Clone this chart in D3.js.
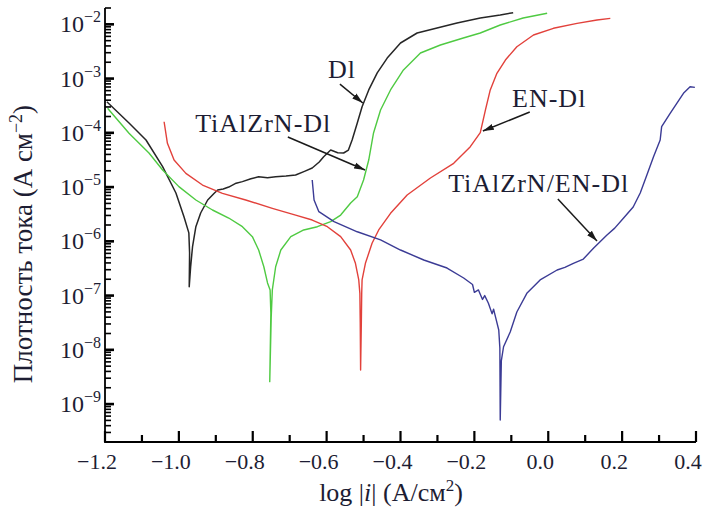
<!DOCTYPE html>
<html>
<head>
<meta charset="utf-8">
<script src="https://cdn.jsdelivr.net/npm/d3@7"></script>
<style>
  html, body { margin: 0; padding: 0; background: #ffffff; }
  svg { display: block; font-family: "Liberation Serif", "Times New Roman", serif; }
</style>
</head>
<body>
<svg id="chart" width="707" height="508"></svg>
<script>
// Polarization curves: potential (x) vs current density (y, A/cm²)

// Dl
const dlE = [-1.195, -1.135, -1.089, -1.044, -1.008, -0.986, -0.973, -0.971, -0.972, -0.968, -0.963, -0.954, -0.941, -0.922, -0.905, -0.895, -0.880, -0.865, -0.845, -0.828, -0.805, -0.784, -0.760, -0.738, -0.710, -0.684, -0.660, -0.639, -0.620, -0.608, -0.589, -0.570, -0.554, -0.541, -0.531, -0.517, -0.504, -0.486, -0.463, -0.436, -0.400, -0.355, -0.301, -0.247, -0.184, -0.130, -0.095];
const dlI = [3.75e-4, 1.52e-4, 7.38e-5, 2.38e-5, 7.78e-6, 2.81e-6, 1.43e-6, 6.1e-7, 1.46e-7, 3.5e-7, 7.96e-7, 1.86e-6, 3.33e-6, 5.78e-6, 7.6e-6, 8.83e-6, 9.2e-6, 1.0e-5, 1.18e-5, 1.26e-5, 1.42e-5, 1.55e-5, 1.48e-5, 1.55e-5, 1.60e-5, 1.67e-5, 1.95e-5, 2.25e-5, 2.9e-5, 3.63e-5, 4.82e-5, 4.3e-5, 4.25e-5, 4.82e-5, 7.38e-5, 1.52e-4, 3.03e-4, 6.17e-4, 1.27e-3, 2.39e-3, 4.53e-3, 6.92e-3, 8.55e-3, 1.06e-2, 1.31e-2, 1.49e-2, 1.64e-2];

// TiAlZrN-Dl
const tiDlE = [-1.193, -1.135, -1.081, -1.044, -1.000, -0.954, -0.909, -0.865, -0.828, -0.801, -0.784, -0.770, -0.760, -0.753, -0.751, -0.754, -0.750, -0.747, -0.738, -0.724, -0.697, -0.662, -0.625, -0.589, -0.562, -0.535, -0.517, -0.500, -0.486, -0.473, -0.454, -0.427, -0.392, -0.346, -0.292, -0.230, -0.184, -0.130, -0.068, -0.003];
const tiDlI = [2.83e-4, 9.8e-5, 4.25e-5, 2.07e-5, 1.02e-5, 5.78e-6, 3.78e-6, 2.69e-6, 1.86e-6, 1.22e-6, 6.92e-7, 3.40e-7, 1.71e-7, 1.27e-7, 4.78e-8, 2.59e-9, 4.0e-8, 1.27e-7, 3.40e-7, 6.92e-7, 1.22e-6, 1.62e-6, 1.86e-6, 2.30e-6, 3.05e-6, 5.09e-6, 6.65e-6, 1.35e-5, 3.15e-5, 9.93e-5, 2.64e-4, 6.17e-4, 1.44e-3, 2.96e-3, 4.16e-3, 5.6e-3, 6.92e-3, 9.72e-3, 1.31e-2, 1.60e-2];

// EN-Dl
const enDlE = [-1.040, -1.031, -1.013, -0.981, -0.936, -0.882, -0.819, -0.747, -0.684, -0.639, -0.598, -0.562, -0.535, -0.522, -0.513, -0.510, -0.509, -0.508, -0.506, -0.505, -0.504, -0.495, -0.477, -0.459, -0.427, -0.382, -0.319, -0.256, -0.211, -0.184, -0.170, -0.157, -0.139, -0.116, -0.085, -0.040, 0.014, 0.078, 0.132, 0.168];
const enDlI = [1.60e-4, 6.41e-5, 3.15e-5, 1.79e-5, 1.09e-5, 7.67e-6, 5.78e-6, 4.06e-6, 3.05e-6, 2.47e-6, 1.86e-6, 1.22e-6, 6.92e-7, 3.94e-7, 1.94e-7, 1.10e-7, 3.2e-8, 4.25e-9, 3.2e-8, 1.10e-7, 1.94e-7, 3.94e-7, 9.2e-7, 1.62e-6, 3.28e-6, 7.14e-6, 1.47e-5, 2.74e-5, 5.55e-5, 1.01e-4, 2.64e-4, 6.17e-4, 1.25e-3, 2.20e-3, 3.87e-3, 6.35e-3, 8.45e-3, 1.04e-2, 1.20e-2, 1.29e-2];

// TiAlZrN/EN-Dl
const tiEnDlE = [-0.639, -0.634, -0.621, -0.580, -0.517, -0.454, -0.400, -0.337, -0.274, -0.229, -0.205, -0.200, -0.189, -0.178, -0.172, -0.162, -0.152, -0.148, -0.143, -0.134, -0.131, -0.130, -0.127, -0.121, -0.103, -0.085, -0.058, -0.022, 0.024, 0.045, 0.068, 0.095, 0.123, 0.159, 0.180, 0.204, 0.230, 0.249, 0.267, 0.285, 0.303, 0.307, 0.330, 0.348, 0.366, 0.384, 0.397];
const tiEnDlI = [1.35e-5, 5.78e-6, 3.52e-6, 2.30e-6, 1.50e-6, 1.06e-6, 6.92e-7, 4.53e-7, 3.22e-7, 2.11e-7, 1.6e-7, 1.15e-7, 1.27e-7, 8.5e-8, 1.0e-7, 7.21e-8, 4.6e-8, 5.6e-8, 4.08e-8, 2.32e-8, 1.08e-8, 5.09e-10, 6.3e-9, 1.14e-8, 2.13e-8, 4.98e-8, 1.10e-7, 1.94e-7, 2.96e-7, 3.3e-7, 3.94e-7, 4.72e-7, 7.53e-7, 1.31e-6, 1.75e-6, 2.69e-6, 4.3e-6, 7.78e-6, 1.67e-5, 3.63e-5, 7.38e-5, 1.30e-4, 2.29e-4, 3.50e-4, 5.36e-4, 7.08e-4, 6.90e-4];

// Axis ticks
const xMajor = [-1.2, -1.0, -0.8, -0.6, -0.4, -0.2, 0.0, 0.2, 0.4];
const xMinor = [-1.1, -0.9, -0.7, -0.5, -0.3, -0.1, 0.1, 0.3];
const yExponents = [-2, -3, -4, -5, -6, -7, -8, -9];

// Callouts: label anchor (left/baseline) and arrow from -> to, in data units
const labels = [
  { text: "Dl",            lx: -0.596, ly: 1.03e-3, ax0: -0.564, ay0: 7.9e-4, ax1: -0.502, ay1: 3.55e-4 },
  { text: "TiAlZrN-Dl",    lx: -0.956, ly: 1.04e-4, ax0: -0.705, ay0: 8.4e-5, ax1: -0.496, ay1: 2.07e-5 },
  { text: "EN-Dl",         lx: -0.098, ly: 2.99e-4, ax0: -0.050, ay0: 2.42e-4, ax1: -0.177, ay1: 1.08e-4 },
  { text: "TiAlZrN/EN-Dl", lx: -0.271, ly: 8.1e-6,  ax0: 0.026,  ay0: 6.03e-6, ax1: 0.132,  ay1: 1.01e-6 }
];

const series = [
  { e: dlE,     i: dlI,     color: "#262626", width: 1.5 },
  { e: tiDlE,   i: tiDlI,   color: "#4fca42", width: 1.4 },
  { e: enDlE,   i: enDlI,   color: "#e2413b", width: 1.4 },
  { e: tiEnDlE, i: tiEnDlI, color: "#3b3b95", width: 1.4 }
];

const svg = d3.select("#chart");
const textColor = "#1d1d33";
const axisColor = "#000000";

const x = d3.scaleLinear().domain([-1.2, 0.4]).range([105, 696]);
const y = d3.scaleLog().domain([2e-10, 2e-2]).range([442, 8]);
const xLeft = x.range()[0], xRight = x.range()[1];
const yBottom = y.range()[0], yTop = y.range()[1];

// Arrowhead
svg.append("defs").append("marker")
  .attr("id", "arrow")
  .attr("markerUnits", "userSpaceOnUse")
  .attr("markerWidth", 12).attr("markerHeight", 8)
  .attr("refX", 11).attr("refY", 4)
  .attr("orient", "auto")
  .append("path")
  .attr("d", "M0,0.8 L11,4 L0,7.2 Z")
  .attr("fill", "#1a1a1a");

// Curves
const line = d3.line().x(d => d[0]).y(d => d[1]);
series.forEach(s => {
  const pts = s.e.map((v, k) => [x(v), y(s.i[k])]);
  svg.append("path")
    .attr("d", line(pts))
    .attr("fill", "none")
    .attr("stroke", s.color)
    .attr("stroke-width", s.width)
    .attr("stroke-linejoin", "round");
});

// Y tick values
const yMinor = [];
for (let n = -10; n <= -3; n++) {
  for (let k = 2; k <= 9; k++) yMinor.push(k * Math.pow(10, n));
}
yMinor.push(2e-2);
const yMajor = yExponents.map(n => Math.pow(10, n));

// Inward ticks as filled rectangles
svg.selectAll("rect.xmin").data(xMinor).join("rect").attr("class", "xmin")
  .attr("x", d => x(d) - 1.1).attr("y", yBottom - 7).attr("width", 2.2).attr("height", 7)
  .attr("fill", axisColor);
svg.selectAll("rect.xmaj").data(xMajor).join("rect").attr("class", "xmaj")
  .attr("x", d => x(d) - 1.1).attr("y", yBottom - 11).attr("width", 2.2).attr("height", 11)
  .attr("fill", axisColor);
svg.selectAll("rect.ymin").data(yMinor).join("rect").attr("class", "ymin")
  .attr("x", xLeft).attr("y", d => y(d) - 0.8).attr("width", 6).attr("height", 1.6)
  .attr("fill", axisColor);
svg.selectAll("rect.ymaj").data(yMajor).join("rect").attr("class", "ymaj")
  .attr("x", xLeft).attr("y", d => y(d) - 1.3).attr("width", 9).attr("height", 2.6)
  .attr("fill", axisColor);

// Axis frame (left + bottom)
svg.append("path")
  .attr("d", "M" + xLeft + "," + yTop + "V" + yBottom + "H" + xRight)
  .attr("fill", "none").attr("stroke", axisColor).attr("stroke-width", 1.8);

// X tick labels
const fmt = d3.format(".1f");
svg.selectAll("text.xlabel").data(xMajor).join("text")
  .attr("class", "xlabel")
  .attr("x", d => x(d) - 8)
  .attr("y", 469)
  .attr("text-anchor", "middle")
  .attr("fill", textColor)
  .attr("font-size", 22)
  .text(d => fmt(d));

// Y tick labels: 10 with superscript exponent
yExponents.forEach(n => {
  const t = svg.append("text")
    .attr("x", 101)
    .attr("y", y(Math.pow(10, n)) + 8)
    .attr("text-anchor", "end")
    .attr("fill", textColor)
    .attr("font-size", 24);
  t.append("tspan").text("10");
  t.append("tspan").attr("font-size", 16).attr("dy", -10).text("\u2212" + Math.abs(n));
});

// Axis titles
const xt = svg.append("text")
  .attr("x", 391).attr("y", 501)
  .attr("text-anchor", "middle")
  .attr("fill", textColor)
  .attr("font-size", 26);
xt.append("tspan").text("log |");
xt.append("tspan").attr("font-style", "italic").text("i");
xt.append("tspan").text("| (А/см");
xt.append("tspan").attr("font-size", 17).attr("dy", -10).text("2");
xt.append("tspan").attr("dy", 10).text(")");

const yt = svg.append("text")
  .attr("transform", "translate(32,244) rotate(-90)")
  .attr("text-anchor", "middle")
  .attr("fill", textColor)
  .attr("font-size", 27);
yt.append("tspan").text("Плотность тока (А см");
yt.append("tspan").attr("font-size", 18).attr("dy", -10).text("\u22122");
yt.append("tspan").attr("dy", 10).text(")");

// Callout labels with arrows
labels.forEach(l => {
  svg.append("line")
    .attr("x1", x(l.ax0)).attr("y1", y(l.ay0))
    .attr("x2", x(l.ax1)).attr("y2", y(l.ay1))
    .attr("stroke", "#1a1a1a")
    .attr("stroke-width", 1.5)
    .attr("marker-end", "url(#arrow)");
  svg.append("text")
    .attr("x", x(l.lx)).attr("y", y(l.ly))
    .attr("fill", textColor)
    .attr("font-size", 26)
    .attr("letter-spacing", 1)
    .text(l.text);
});
</script>
</body>
</html>
